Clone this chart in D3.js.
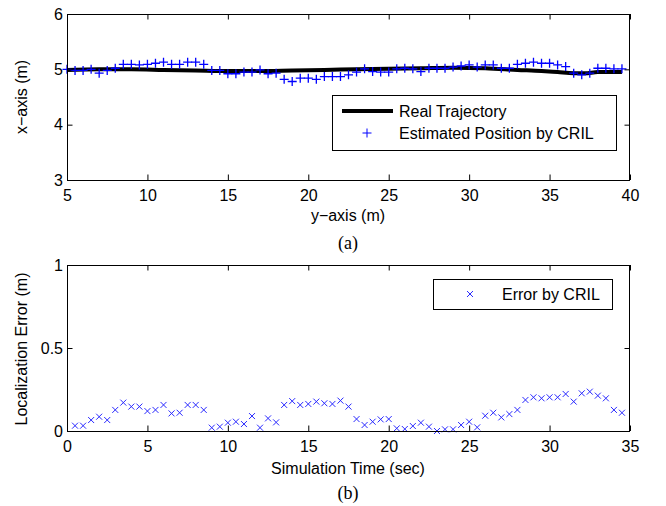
<!DOCTYPE html>
<html>
<head>
<meta charset="utf-8">
<script src="https://cdn.jsdelivr.net/npm/d3@7"></script>
<style>
body { margin: 0; background: #fff; }
text { font-family: "Liberation Sans", Arial, sans-serif; }
.axis text { font-size: 16px; fill: #000; }
.axis line { stroke: #000; }
.cap { font-family: "Liberation Serif", "Times New Roman", serif; font-size: 18px; }
</style>
</head>
<body>
<svg id="chart" width="666" height="506"></svg>
<script>
// (a) real trajectory: y-axis (horizontal), x-axis (vertical)
var realY = [5, 7, 9, 11, 13, 15, 17, 19, 21, 23, 25, 27, 29, 31, 33, 34.5, 35.5, 36.5, 37.2, 38, 39.5]
var realX = [4.99, 5.0, 5.0, 4.99, 4.98, 4.97, 4.97, 4.98, 4.99, 5.0, 5.01, 5.02, 5.03, 5.02, 4.99, 4.97, 4.95, 4.93, 4.93, 4.95, 4.95]

// (a) estimated positions by CRIL
var estY = [5, 5.5, 6, 6.5, 7, 7.5, 8, 8.5, 9, 9.5, 10, 10.5, 11, 11.5, 12, 12.5, 13, 13.5, 14, 14.5,
    15, 15.5, 16, 16.5, 17, 17.5, 18, 18.5, 19, 19.5, 20, 20.5, 21, 21.5, 22, 22.5, 23, 23.5, 24, 24.5,
    25, 25.5, 26, 26.5, 27, 27.5, 28, 28.5, 29, 29.5, 30, 30.5, 31, 31.5, 32, 32.5, 33, 33.5, 34, 34.5,
    35, 35.5, 36, 36.5, 37, 37.5, 38, 38.5, 39, 39.5]
var estX = [5.00, 4.98, 4.98, 5.00, 4.93, 4.98, 5.02, 5.09, 5.09, 5.08, 5.09, 5.11, 5.13, 5.09, 5.09, 5.13, 5.13, 5.09, 4.98, 4.98,
    4.92, 4.92, 4.95, 4.95, 4.99, 4.92, 4.93, 4.82, 4.78, 4.84, 4.84, 4.82, 4.87, 4.87, 4.87, 4.90, 4.95, 5.01, 4.96, 4.95,
    4.95, 5.01, 5.02, 5.01, 4.96, 5.02, 5.02, 5.02, 5.04, 5.06, 5.08, 5.04, 5.08, 5.08, 5.02, 5.02, 5.09, 5.11, 5.13, 5.11,
    5.11, 5.08, 5.05, 4.93, 4.90, 4.93, 5.02, 5.02, 5.01, 5.01]

// (b) localization error over time
var errT = [0.5, 1, 1.5, 2, 2.5, 3, 3.5, 4, 4.5, 5, 5.5, 6, 6.5, 7, 7.5, 8, 8.5, 9, 9.5, 10,
    10.5, 11, 11.5, 12, 12.5, 13, 13.5, 14, 14.5, 15, 15.5, 16, 16.5, 17, 17.5, 18, 18.5, 19, 19.5, 20,
    20.5, 21, 21.5, 22, 22.5, 23, 23.5, 24, 24.5, 25, 25.5, 26, 26.5, 27, 27.5, 28, 28.5, 29, 29.5, 30,
    30.5, 31, 31.5, 32, 32.5, 33, 33.5, 34, 34.5]
var errV = [0.032, 0.032, 0.066, 0.086, 0.066, 0.127, 0.171, 0.147, 0.147, 0.120, 0.127, 0.157, 0.106, 0.110, 0.157, 0.157, 0.127, 0.020, 0.026, 0.050,
    0.056, 0.042, 0.090, 0.020, 0.076, 0.052, 0.157, 0.180, 0.157, 0.163, 0.177, 0.167, 0.163, 0.183, 0.147, 0.072, 0.036, 0.056, 0.070, 0.072,
    0.016, 0.012, 0.030, 0.050, 0.026, 0.000, 0.010, 0.010, 0.036, 0.056, 0.022, 0.092, 0.110, 0.082, 0.102, 0.127, 0.187, 0.203, 0.197, 0.203,
    0.203, 0.223, 0.177, 0.227, 0.237, 0.213, 0.197, 0.127, 0.110]

var xTicksA = [5, 10, 15, 20, 25, 30, 35, 40]
var yTicksA = [3, 4, 5, 6]
var xTicksB = [0, 5, 10, 15, 20, 25, 30, 35]
var yTicksB = [0, 0.5, 1]

var svg = d3.select("#chart")
var L = 67, R = 630, TK = 5.5

function frame(x, y, top, bottom, xt, yt) {
    svg.append("g").attr("class", "axis")
        .attr("transform", `translate(0,${bottom})`)
        .call(d3.axisBottom(x).tickValues(xt).tickSizeInner(-TK).tickSizeOuter(0).tickPadding(10).tickFormat(d => d))
        .select(".domain").remove()
    svg.append("g").attr("class", "axis")
        .attr("transform", `translate(0,${top})`)
        .call(d3.axisTop(x).tickValues(xt).tickSizeInner(-TK).tickSizeOuter(0).tickFormat(""))
        .select(".domain").remove()
    svg.append("g").attr("class", "axis")
        .attr("transform", `translate(${L},0)`)
        .call(d3.axisLeft(y).tickValues(yt).tickSizeInner(-TK).tickSizeOuter(0).tickPadding(4).tickFormat(d => d))
        .select(".domain").remove()
    svg.append("g").attr("class", "axis")
        .attr("transform", `translate(${R},0)`)
        .call(d3.axisRight(y).tickValues(yt).tickSizeInner(-TK).tickSizeOuter(0).tickFormat(""))
        .select(".domain").remove()
    svg.append("rect")
        .attr("x", L + 0.5).attr("y", top + 0.5)
        .attr("width", R - L - 1).attr("height", bottom - top)
        .attr("fill", "none").attr("stroke", "#000").attr("stroke-width", 1)
}

// ---- plot (a)
var xA = d3.scaleLinear().domain([5, 40]).range([L, R])
var yA = d3.scaleLinear().domain([3, 6]).range([180, 14])

var realLine = d3.line()
    .x((d, i) => xA(realY[i]))
    .y(d => yA(d))
    .curve(d3.curveMonotoneX)
svg.append("path")
    .attr("d", realLine(realX))
    .attr("fill", "none").attr("stroke", "#000").attr("stroke-width", 4)

var ph = 4.5
var plus = svg.append("g").attr("stroke", "#0000ff").attr("stroke-width", 1.3)
for (var i = 0; i < estY.length; i++) {
    var px = xA(estY[i]), py = yA(estX[i])
    plus.append("path").attr("d", `M${px - ph},${py}H${px + ph}M${px},${py - ph}V${py + ph}`)
}

frame(xA, yA, 14, 180, xTicksA, yTicksA)

svg.append("text").attr("x", 348).attr("y", 221).attr("text-anchor", "middle")
    .attr("font-size", 16).text("y\u2212axis (m)")
svg.append("text").attr("transform", "translate(27,97) rotate(-90)").attr("text-anchor", "middle")
    .attr("font-size", 16).text("x\u2212axis (m)")
svg.append("text").attr("class", "cap").attr("x", 348).attr("y", 249).attr("text-anchor", "middle").text("(a)")

// legend (a)
svg.append("rect").attr("x", 332.5).attr("y", 95.5).attr("width", 284).attr("height", 55)
    .attr("fill", "#fff").attr("stroke", "#000")
svg.append("line").attr("x1", 342).attr("x2", 393).attr("y1", 111).attr("y2", 111)
    .attr("stroke", "#000").attr("stroke-width", 4)
svg.append("path").attr("d", `M${367 - ph},133H${367 + ph}M367,${133 - ph}V${133 + ph}`)
    .attr("stroke", "#0000ff").attr("stroke-width", 1)
svg.append("text").attr("x", 399).attr("y", 117).attr("font-size", 16).text("Real Trajectory")
svg.append("text").attr("x", 399).attr("y", 139).attr("font-size", 16).text("Estimated Position by CRIL")

// ---- plot (b)
var xB = d3.scaleLinear().domain([0, 35]).range([L, R])
var yB = d3.scaleLinear().domain([0, 1]).range([431, 265])

var xh = 3
var cross = svg.append("g").attr("stroke", "#2a2aff").attr("stroke-width", 1)
for (var j = 0; j < errT.length; j++) {
    var cx = xB(errT[j]), cy = yB(errV[j])
    cross.append("path").attr("d", `M${cx - xh},${cy - xh}L${cx + xh},${cy + xh}M${cx - xh},${cy + xh}L${cx + xh},${cy - xh}`)
}

frame(xB, yB, 265, 431, xTicksB, yTicksB)

svg.append("text").attr("x", 348).attr("y", 474).attr("text-anchor", "middle")
    .attr("font-size", 16).text("Simulation Time (sec)")
svg.append("text").attr("transform", "translate(27,349) rotate(-90)").attr("text-anchor", "middle")
    .attr("font-size", 16).text("Localization Error (m)")
svg.append("text").attr("class", "cap").attr("x", 348).attr("y", 499).attr("text-anchor", "middle").text("(b)")

// legend (b)
svg.append("rect").attr("x", 433.5).attr("y", 279.5).attr("width", 179).attr("height", 30)
    .attr("fill", "#fff").attr("stroke", "#000")
svg.append("path").attr("d", `M${470 - xh},${294 - xh}L${470 + xh},${294 + xh}M${470 - xh},${294 + xh}L${470 + xh},${294 - xh}`)
    .attr("stroke", "#2a2aff").attr("stroke-width", 1)
svg.append("text").attr("x", 502).attr("y", 300).attr("font-size", 16).text("Error by CRIL")
</script>
</body>
</html>
